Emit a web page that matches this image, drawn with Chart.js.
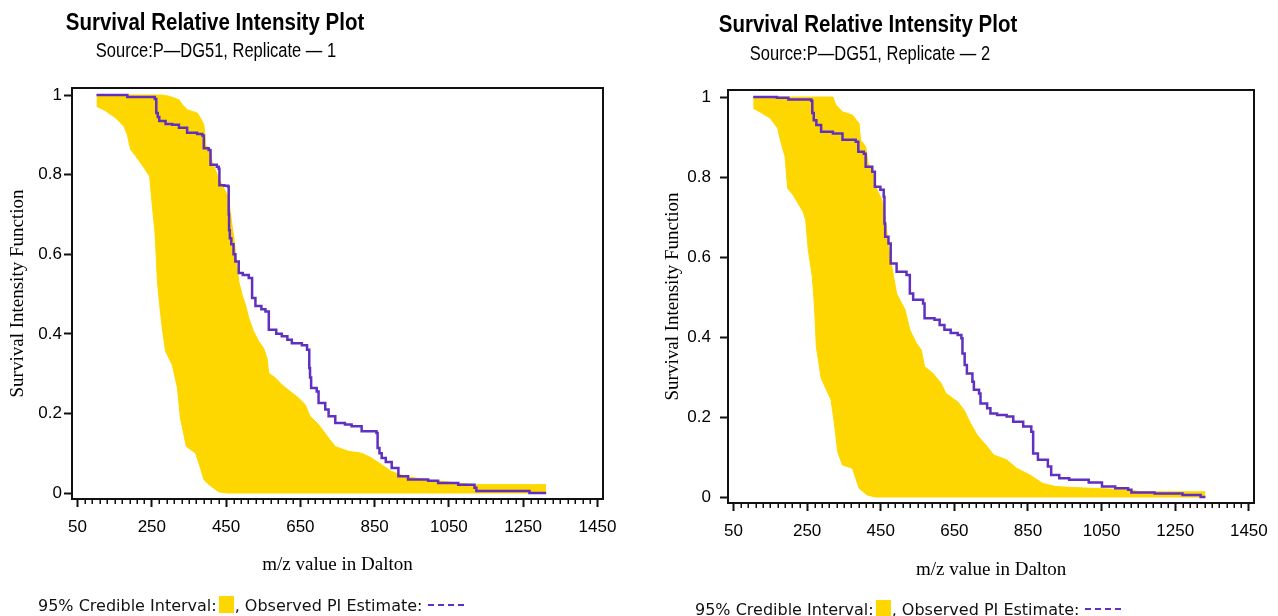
<!DOCTYPE html>
<html>
<head>
<meta charset="utf-8">
<script src="https://cdn.jsdelivr.net/npm/chart.js@4.4.0/dist/chart.umd.min.js"></script>
<style>
  body { margin: 0; background: #fff; }
  #page { position: relative; width: 1278px; height: 616px; overflow: hidden; background: #fff; }
  canvas { position: absolute; top: 0; }
  .title { position: absolute; width: 420px; text-align: center; white-space: nowrap; color: #000;
           font: bold 20.5px "Liberation Sans", Arial, sans-serif; line-height: 20px; transform: scaleY(1.17); }
  .sub { position: absolute; width: 420px; text-align: center; white-space: nowrap; color: #000;
         font: 16.5px "Liberation Sans", Arial, sans-serif; line-height: 17px; transform: scaleY(1.18); }
  .legend { position: absolute; height: 20px; line-height: 20px; white-space: nowrap; color: #111;
            font: 16px "DejaVu Sans", sans-serif; }
  .swatch { display: inline-block; width: 15px; height: 17px; background: #FFD700; vertical-align: -2px; margin: 0 1px 0 2px; }
  .dash { display: inline-block; width: 36px; border-top: 2px dashed #6030C0; vertical-align: 5px; margin-left: 6px; }
</style>
</head>
<body>
<div id="page">
  <canvas id="rep1" width="639" height="616" style="left:0"></canvas>
  <canvas id="rep2" width="639" height="616" style="left:639px"></canvas>

  <div class="title" style="left:5px; top:12px">Survival Relative Intensity Plot</div>
  <div class="sub" style="left:6px; top:42px">Source:P—DG51, Replicate — 1</div>
  <div class="title" style="left:658px; top:14px">Survival Relative Intensity Plot</div>
  <div class="sub" style="left:660px; top:45px">Source:P—DG51, Replicate — 2</div>

  <div class="legend" style="left:38px; top:596px">95% Credible Interval:<span class="swatch"></span>, Observed PI Estimate:<span class="dash"></span></div>
  <div class="legend" style="left:695px; top:600px">95% Credible Interval:<span class="swatch"></span>, Observed PI Estimate:<span class="dash"></span></div>
</div>

<script>
const xTickValues = [50, 250, 450, 650, 850, 1050, 1250, 1450];
const xTickLabels = ['50', '250', '450', '650', '850', '1050', '1250', '1450'];
const yTickValues = [0, 0.2, 0.4, 0.6, 0.8, 1];
const yTickLabels = ['0', '0.2', '0.4', '0.6', '0.8', '1'];

// replicate 1 - observed estimate (step curve)
const rep1ObsMz = [101, 184, 258, 262, 266, 270, 287, 305, 323, 345, 372, 386, 390, 403, 408, 425, 430, 432, 445, 455,
  457, 458, 460, 464, 470, 475, 484, 495, 511, 520, 529, 545, 556, 565, 585, 600, 615, 627, 654, 668,
  674, 676, 679, 694, 699, 717, 726, 744, 770, 788, 815, 855, 858, 863, 869, 880, 896, 914, 940, 994,
  1021, 1075, 1119, 1124, 1263, 1267, 1312];
const rep1ObsSurv = [1.0, 0.995, 0.99, 0.955, 0.945, 0.935, 0.927, 0.925, 0.918, 0.905, 0.902, 0.898, 0.866, 0.862, 0.825, 0.82, 0.815, 0.773, 0.772, 0.77,
  0.70, 0.66, 0.64, 0.625, 0.60, 0.582, 0.553, 0.548, 0.54, 0.49, 0.47, 0.462, 0.456, 0.41, 0.40, 0.394, 0.385, 0.376, 0.371, 0.36,
  0.314, 0.29, 0.264, 0.255, 0.226, 0.21, 0.193, 0.176, 0.172, 0.168, 0.155, 0.151, 0.113, 0.10, 0.088, 0.078, 0.063, 0.042, 0.034, 0.031,
  0.025, 0.021, 0.013, 0.005, 0.005, 0.0, 0.0];
// replicate 1 - 95% credible interval
const rep1UpperMz = [101, 278, 296, 323, 332, 345, 372, 381, 390, 393, 395, 408, 412, 421, 430, 444, 457, 462, 467, 471,
  480, 484, 493, 502, 511, 524, 538, 551, 560, 565, 583, 600, 623, 645, 663, 676, 699, 726, 744, 779,
  815, 842, 869, 896, 932, 985, 1075, 1124, 1312];
const rep1UpperSurv = [1.0, 1.0, 0.997, 0.988, 0.976, 0.963, 0.955, 0.942, 0.925, 0.90, 0.875, 0.858, 0.833, 0.812, 0.791, 0.766, 0.741, 0.70, 0.666, 0.641,
  0.565, 0.532, 0.498, 0.473, 0.44, 0.406, 0.381, 0.364, 0.339, 0.301, 0.289, 0.272, 0.255, 0.239, 0.222, 0.193, 0.172, 0.138, 0.117, 0.105,
  0.10, 0.088, 0.071, 0.054, 0.042, 0.034, 0.025, 0.021, 0.021];
const rep1LowerMz = [101, 126, 153, 175, 184, 193, 207, 229, 244, 247, 251, 259, 265, 271, 278, 287, 305, 319, 327, 343,
  368, 381, 390, 404, 430, 453, 1312];
const rep1LowerSurv = [0.972, 0.96, 0.942, 0.921, 0.90, 0.863, 0.846, 0.817, 0.796, 0.766, 0.725, 0.649, 0.532, 0.473, 0.415, 0.356, 0.322, 0.264, 0.188, 0.117,
  0.10, 0.063, 0.034, 0.021, 0.003, 0.0, 0.0];

// replicate 2 - observed estimate (step curve)
const rep2ObsMz = [103.5, 168, 199, 261, 264, 268, 275, 288, 320, 346, 382, 389, 404, 409, 427, 434, 449, 458, 460, 462,
  471, 477, 493, 520, 529, 538, 565, 569, 596, 610, 623, 640, 659, 669, 672, 678, 684, 699, 703, 717,
  721, 739, 748, 766, 792, 810, 837, 859, 864, 877, 904, 913, 935, 962, 1015, 1051, 1087, 1122, 1131, 1194,
  1270, 1319, 1332];
const rep2ObsSurv = [1.0, 0.998, 0.994, 0.991, 0.96, 0.942, 0.93, 0.913, 0.909, 0.893, 0.888, 0.863, 0.858, 0.826, 0.813, 0.776, 0.768, 0.751, 0.684, 0.651,
  0.634, 0.584, 0.563, 0.555, 0.509, 0.493, 0.484, 0.447, 0.443, 0.43, 0.418, 0.41, 0.405, 0.397, 0.359, 0.33, 0.309, 0.288, 0.268, 0.259,
  0.234, 0.222, 0.209, 0.205, 0.201, 0.188, 0.176, 0.163, 0.109, 0.093, 0.076, 0.055, 0.047, 0.043, 0.036, 0.026, 0.022, 0.018, 0.011, 0.009,
  0.005, 0.0, 0.0];
// replicate 2 - 95% credible interval
const rep2UpperMz = [103.5, 320, 328, 346, 373, 391, 395, 409, 416, 427, 440, 453, 462, 471, 480, 493, 516, 529, 547, 560,
  569, 592, 614, 627, 659, 676, 694, 712, 739, 757, 792, 819, 855, 890, 926, 1015, 1122, 1158, 1332];
const rep2UpperSurv = [1.0, 1.0, 0.98, 0.963, 0.955, 0.934, 0.893, 0.876, 0.834, 0.818, 0.768, 0.743, 0.70, 0.626, 0.576, 0.509, 0.468, 0.418, 0.384, 0.368,
  0.326, 0.309, 0.284, 0.259, 0.238, 0.218, 0.184, 0.155, 0.126, 0.105, 0.093, 0.072, 0.055, 0.034, 0.026, 0.022, 0.018, 0.013, 0.013];
const rep2LowerMz = [103.5, 123, 150, 170, 177, 190, 197, 212, 239, 246, 253, 264, 270, 275, 288, 315, 324, 333, 346, 373,
  391, 413, 435, 1332];
const rep2LowerSurv = [0.972, 0.962, 0.947, 0.922, 0.893, 0.851, 0.772, 0.755, 0.713, 0.693, 0.618, 0.551, 0.476, 0.376, 0.297, 0.243, 0.184, 0.113, 0.08, 0.072,
  0.022, 0.005, 0.0, 0.0];

const gold = '#FFD700';
const purple = '#6030C0';
const ink = '#111';

Chart.defaults.font.family = '"Liberation Sans", Arial, sans-serif';
Chart.defaults.font.size = 17;
Chart.defaults.color = '#000';

function toPoints(xs, ys) {
  return xs.map((x, i) => ({ x: x, y: ys[i] }));
}

// small ticks every 20 between the labelled ones
const minorTicks = {
  id: 'minorTicks',
  afterDraw(chart) {
    const xs = chart.scales.x;
    const bottom = chart.chartArea.bottom;
    const ctx = chart.ctx;
    ctx.save();
    ctx.strokeStyle = ink;
    ctx.lineWidth = 1.5;
    for (let v = 70; v < 1450; v += 20) {
      if ((v - 50) % 200 === 0) continue;
      const px = Math.round(xs.getPixelForValue(v)) + 0.25;
      ctx.beginPath();
      ctx.moveTo(px, bottom);
      ctx.lineTo(px, bottom + 5);
      ctx.stroke();
    }
    ctx.restore();
  }
};

function makePlot(id, obsMz, obsSurv, upMz, upSurv, loMz, loSurv, box) {
  const frame = { display: true, color: ink, width: 2 };
  return new Chart(document.getElementById(id), {
    type: 'line',
    data: {
      datasets: [
        { data: toPoints(obsMz, obsSurv), borderColor: purple, borderWidth: 2.5, stepped: true,
          pointRadius: 0, fill: false, order: 0 },
        { data: toPoints(upMz, upSurv), borderColor: gold, backgroundColor: gold, borderWidth: 1,
          pointRadius: 0, fill: '+1', order: 1 },
        { data: toPoints(loMz, loSurv), borderColor: gold, borderWidth: 1,
          pointRadius: 0, fill: false, order: 2 }
      ]
    },
    options: {
      responsive: false,
      animation: false,
      layout: { padding: { left: 0, top: box.top, right: box.right, bottom: box.bottom } },
      plugins: { legend: { display: false }, tooltip: { enabled: false } },
      scales: {
        x: {
          type: 'linear', position: 'bottom', min: 35, max: 1465,
          afterBuildTicks: s => { s.ticks = xTickValues.map(v => ({ value: v })); },
          afterFit: s => { s.height = box.xHeight; },
          ticks: { padding: 10, maxRotation: 0, autoSkip: false, callback: (v, i) => xTickLabels[i] },
          grid: { drawOnChartArea: false, drawTicks: true, tickLength: 8, tickWidth: 2, tickColor: ink },
          border: frame,
          title: { display: true, text: 'm/z value in Dalton', padding: { top: 0, bottom: 0 },
                   font: { family: '"Liberation Serif", "Times New Roman", serif', size: 19 } }
        },
        y: {
          type: 'linear', position: 'left', min: -0.015, max: 1.0176,
          afterBuildTicks: s => { s.ticks = yTickValues.map(v => ({ value: v })); },
          afterFit: s => { s.width = box.yWidth; },
          ticks: { padding: box.yTickPad, autoSkip: false, callback: (v, i) => yTickLabels[i] },
          grid: { drawOnChartArea: false, drawTicks: true, tickLength: 8, tickWidth: 2, tickColor: ink },
          border: frame,
          title: { display: true, text: 'Survival Intensity Function', padding: { top: box.yTitlePad, bottom: 0 },
                   font: { family: '"Liberation Serif", "Times New Roman", serif', size: 19 } }
        },
        xTop: {
          type: 'linear', position: 'top', min: 35, max: 1465,
          afterFit: s => { s.height = 0; },
          ticks: { display: false },
          grid: { drawOnChartArea: false, drawTicks: false },
          border: frame
        },
        yRight: {
          type: 'linear', position: 'right', min: -0.015, max: 1.0176,
          afterFit: s => { s.width = 0; },
          ticks: { display: false },
          grid: { drawOnChartArea: false, drawTicks: false },
          border: frame
        }
      }
    },
    plugins: [minorTicks]
  });
}

makePlot('rep1', rep1ObsMz, rep1ObsSurv, rep1UpperMz, rep1UpperSurv, rep1LowerMz, rep1LowerSurv,
  { top: 88, right: 36, bottom: 40, xHeight: 77, yWidth: 72, yTickPad: 2, yTitlePad: 7 });
makePlot('rep2', rep2ObsMz, rep2ObsSurv, rep2UpperMz, rep2UpperSurv, rep2LowerMz, rep2LowerSurv,
  { top: 90, right: 14, bottom: 35, xHeight: 78, yWidth: 89, yTickPad: 9, yTitlePad: 23 });
</script>
</body>
</html>
